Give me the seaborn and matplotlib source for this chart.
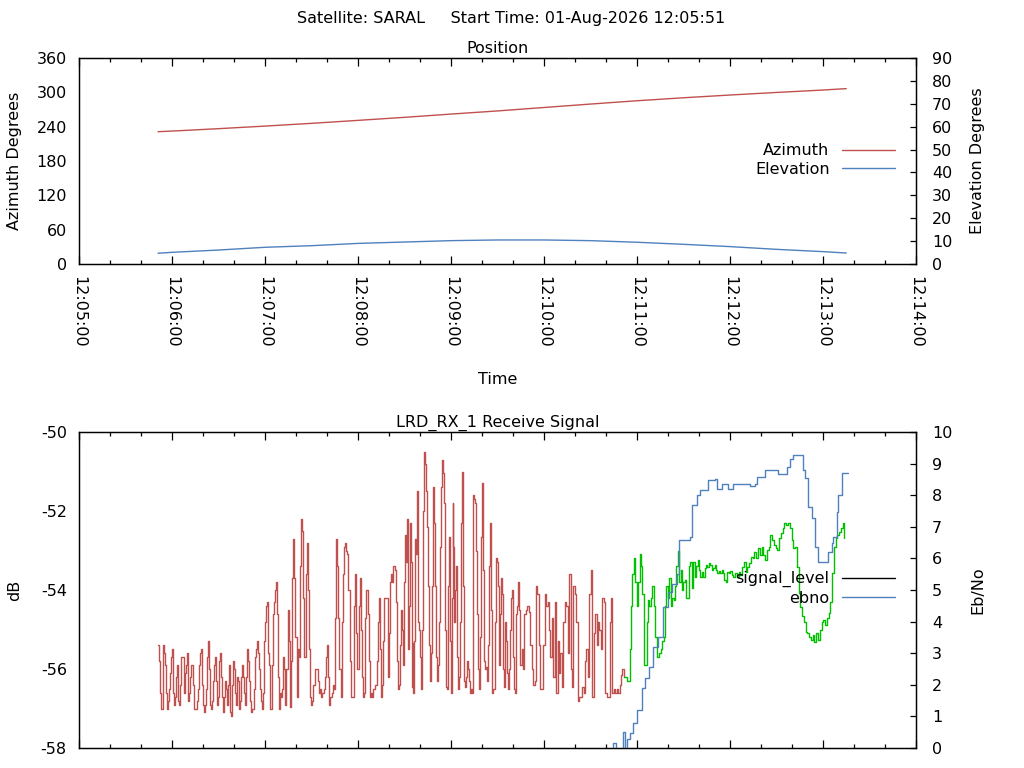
import numpy as np
import pandas as pd
import seaborn as sns
import matplotlib.pyplot as plt
import matplotlib.dates as mdates
from matplotlib.lines import Line2D

# Pass start, all times below are seconds after 12:05:00
start_time = pd.Timestamp('2026-08-01 12:05:00')

# Position samples
pos_sec = [51, 60, 90, 120, 150, 180, 210, 240, 270, 300, 330, 360, 390, 420, 450, 480, 495]
azimuth = [231.2, 232.3, 236.5, 241.0, 245.8, 251.0, 256.3, 262.0, 267.5, 273.5, 279.5,
           285.3, 290.5, 295.3, 299.8, 304.0, 306.5]
elevation = [4.7, 5.1, 6.1, 7.3, 8.0, 9.0, 9.6, 10.2, 10.5, 10.5, 10.2, 9.5, 8.6, 7.6, 6.4, 5.4, 4.8]

# Signal level (dB), read in pieces; each piece spans the matching pair of seg_bounds
seg_bounds = [51, 129.5, 207.2, 284.6, 352.5, 421, 495]
signal_a = [-55.4, -55.8, -56.6, -57.0, -57.0, -55.4, -55.6, -55.9, -56.6, -57.0, -56.8, -56.5, -56.1,
            -55.7, -55.5, -56.6, -56.9, -56.7, -56.2, -55.9, -56.8, -56.9, -56.4, -55.7, -55.7, -55.7,
            -56.6, -56.1, -55.9, -55.6, -56.8, -56.6, -56.2, -55.9, -55.9, -56.4, -57.0, -57.0, -57.0,
            -56.8, -56.5, -55.9, -55.6, -55.5, -56.4, -56.9, -57.1, -56.9, -56.5, -55.7, -55.3, -56.0,
            -56.9, -57.0, -56.8, -56.3, -55.9, -55.7, -56.3, -56.9, -56.7, -55.8, -55.6, -56.2, -56.7,
            -57.1, -56.7, -56.3, -56.5, -56.9, -56.4, -55.9, -57.1, -57.2, -56.4, -55.8, -56.0, -56.6,
            -56.9, -56.2, -56.3, -57.0, -56.8, -56.2, -55.9, -56.2, -56.6, -56.9, -56.2, -55.5, -55.8,
            -56.3, -56.8, -57.1, -57.0, -57.0, -56.5, -55.7, -55.5, -55.3, -55.6, -56.0, -56.5, -56.8,
            -57.0, -56.6, -55.3, -54.8, -54.4, -54.3, -55.6, -55.9, -57.0, -57.0, -55.9, -54.6, -54.3,
            -54.0, -53.8, -54.6, -56.2, -57.0]
signal_b = [-56.6, -56.7, -56.5, -55.7, -56.0, -56.9, -56.0, -54.5, -55.3, -56.95, -55.8, -53.7, -52.7,
            -53.7, -55.2, -56.7, -55.5, -55.7, -53.4, -52.2, -52.5, -54.2, -55.7, -53.6, -52.8, -54.0,
            -55.5, -56.7, -56.9, -56.8, -56.4, -56.0, -56.0, -56.0, -56.3, -56.6, -56.5, -56.7, -56.6,
            -56.5, -56.2, -55.7, -55.4, -56.2, -56.9, -56.7, -56.6, -56.4, -56.5, -54.7, -52.7, -53.4,
            -54.7, -56.0, -56.7, -54.8, -53.6, -52.9, -52.8, -53.0, -53.1, -54.0, -55.8, -56.7, -56.7,
            -56.7, -54.4, -53.6, -55.1, -56.0, -54.4, -53.7, -55.0, -56.2, -56.7, -56.6, -54.7, -54.0,
            -54.6, -55.8, -56.7, -56.6, -56.7, -56.5, -56.5, -56.4, -55.8, -54.8, -54.2, -55.5, -56.7,
            -56.4, -55.3, -54.2, -54.2, -54.2, -56.2, -55.1, -53.8, -53.6, -53.8, -53.4, -53.5, -54.3,
            -55.8, -56.5, -56.4]
signal_c = [-55.4, -54.5, -55.0, -55.9, -53.8, -52.6, -53.3, -52.2, -55.5, -54.4, -52.3, -53.3, -56.45,
            -55.35, -56.6, -55.3, -52.7, -53.1, -51.5, -54.8, -55.0, -55.7, -56.5, -55.0, -52.0, -50.5,
            -50.8, -51.5, -52.4, -53.9, -55.4, -56.3, -55.6, -53.9, -52.2, -51.4, -52.3, -53.9, -55.7,
            -56.3, -55.9, -54.8, -52.9, -51.4, -50.7, -51.05, -51.8, -55.0, -56.45, -56.5, -53.9, -52.65,
            -55.3, -56.6, -54.2, -51.8, -52.9, -54.8, -54.0, -53.4, -55.7, -56.5, -56.2, -54.8, -52.3,
            -51.0, -53.9, -56.3, -56.45, -56.2, -55.8, -56.0, -56.3, -56.6, -56.5, -56.6, -54.1, -51.6,
            -51.7, -51.8, -53.0, -54.6, -56.0, -56.5, -55.2, -52.65, -51.3, -53.5, -55.8, -56.0, -55.95,
            -56.3, -55.4, -53.4, -52.3, -54.5, -56.6, -56.5, -56.5, -56.5, -54.8, -53.2, -53.3, -53.9,
            -55.9, -54.6, -53.7, -54.1, -56.0, -56.45, -54.8, -55.3, -56.1, -56.5, -56.0, -55.0, -54.2,
            -54.0, -54.6, -55.7, -56.5, -56.6, -54.6, -54.4, -53.8, -54.5]
signal_d = [-55.9, -55.5, -56.0, -54.6, -54.5, -54.4, -54.55, -55.4, -56.0, -56.4, -56.3, -53.9, -54.1,
            -55.4, -56.5, -56.5, -55.4, -54.1, -54.4, -54.3, -55.0, -55.7, -54.7, -56.2, -54.3, -56.6,
            -55.3, -56.1, -55.6, -56.45, -54.8, -54.3, -54.4, -55.6, -53.6, -56.0, -56.45, -53.9, -54.1,
            -54.8, -56.8, -56.7, -56.7, -56.45, -56.6, -55.8, -55.5, -56.2, -54.1, -53.5, -56.7, -55.1,
            -54.6, -55.4, -54.8, -55.0, -55.5, -54.2, -54.3, -56.6, -56.7, -56.7, -54.8, -54.2, -56.6,
            -56.5, -56.6, -56.5, -56.6, -56.4, -56.15, -56.0, -56.2]
signal_e = [-56.2, -56.3, -56.3, -55.5, -54.4, -53.6, -53.2, -53.8, -54.4, -53.8, -53.1, -53.4, -54.1,
            -55.9, -55.9, -54.8, -54.25, -54.4, -54.2, -53.9, -54.4, -55.2, -55.7, -55.7, -55.6, -55.5,
            -55.3, -55.2, -54.4, -53.9, -54.2, -53.7, -54.4, -54.2, -54.25, -53.9, -53.4, -53.0, -53.8,
            -53.5, -54.0, -53.8, -53.75, -54.2, -54.2, -53.4, -53.3, -53.96, -53.3, -53.66, -53.4,
            -53.24, -53.5, -53.66, -53.54, -53.66, -53.45, -53.37, -53.41, -53.32, -53.37, -53.49,
            -53.45, -53.37, -53.49, -53.58, -53.51, -53.58, -53.49, -53.58, -53.75, -53.79, -53.54,
            -53.58, -53.51]
signal_f = [-53.62, -53.66, -53.58, -53.66, -53.54, -53.62, -53.41, -53.28, -53.54, -53.41, -53.32,
            -53.16, -53.2, -53.03, -53.2, -52.94, -53.11, -52.9, -53.11, -53.24, -52.99, -52.9, -52.61,
            -52.73, -52.86, -52.94, -52.99, -52.69, -52.56, -52.44, -52.31, -52.35, -52.31, -52.44,
            -52.73, -52.94, -52.9, -53.41, -54.08, -54.42, -54.67, -54.8, -55.06, -55.1, -55.18, -55.27,
            -55.14, -55.31, -55.1, -55.27, -55.01, -54.8, -54.76, -54.89, -54.72, -54.59, -54.3, -53.58,
            -52.9, -52.69, -52.61, -52.52, -52.44, -52.31, -52.69]

# Eb/No samples
ebno_sec = [330, 340, 344.5, 346.5, 349.7, 351.0, 352.3, 353.5, 355.5, 357.4, 360.0, 363.0, 365.2,
            367.9, 370.5, 373.7, 377.0, 380.2, 382.6, 385.6, 387.3, 394.2, 395.3, 398.5, 400.6, 406.0,
            410.3, 411.4, 414.6, 418.9, 422.1, 432.9, 436.1, 437.2, 442.6, 451.2, 456.6, 458.7, 460.9,
            467.3, 468.4, 470.5, 472.7, 474.8, 477.0, 483.4, 485.6, 486.6, 488.8, 489.9, 492.1, 496.3]
ebno = [-1.0, -0.6, 0.15, -0.5, -0.3, 0.5, -0.2, 0.3, 0.46, 0.78, 1.2, 1.9, 2.2, 2.57, 3.2, 3.5,
        4.47, 4.95, 5.2, 5.5, 6.58, 6.69, 7.69, 8.0, 8.16, 8.48, 8.5, 8.19, 8.37, 8.19, 8.37, 8.3,
        8.37, 8.58, 8.8, 8.67, 8.9, 9.16, 9.27, 8.8, 8.53, 7.63, 7.27, 6.37, 5.9, 6.2, 6.48, 6.69,
        7.48, 8.0, 8.69, 8.69]

RED = '#c0504d'
BLUE = '#4f81bd'
GREEN = '#00c000'


def to_time(sec):
    return start_time + pd.to_timedelta(np.asarray(sec, dtype=float), unit='s')


# spread each signal piece over its time span
pieces = [signal_a, signal_b, signal_c, signal_d, signal_e, signal_f]
sig_sec = []
for i, piece in enumerate(pieces):
    sig_sec.append(np.linspace(seg_bounds[i], seg_bounds[i + 1], len(piece), endpoint=False))
n_red = len(signal_a) + len(signal_b) + len(signal_c) + len(signal_d)
sig_sec = np.concatenate(sig_sec)
sig_val = np.concatenate(pieces)
sig_time = to_time(sig_sec)

sns.set_theme(style='white', rc={'axes.edgecolor': 'black', 'text.color': 'black',
                                 'xtick.color': 'black', 'ytick.color': 'black',
                                 'axes.labelcolor': 'black', 'axes.linewidth': 0.9})
plt.rcParams['font.family'] = ['DejaVu Sans']
plt.rcParams['axes.unicode_minus'] = False
FS = 11.5

fig = plt.figure(figsize=(10.24, 7.68), dpi=100)
fig.text(0.4995, 1 - 23 / 768, 'Satellite: SARAL     Start Time: 01-Aug-2026 12:05:51',
         ha='center', va='baseline', fontsize=FS)

ax_top = fig.add_axes([79 / 1024, 1 - 264 / 768, 837 / 1024, 206 / 768])
ax_top_r = ax_top.twinx()
ax_bot = fig.add_axes([79 / 1024, 1 - 748 / 768, 837 / 1024, 316 / 768])
ax_bot_r = ax_bot.twinx()

# Position plot
pos_time = to_time(pos_sec)
sns.lineplot(x=pos_time, y=azimuth, ax=ax_top, color=RED, lw=1.0, estimator=None, sort=False)
sns.lineplot(x=pos_time, y=elevation, ax=ax_top_r, color=BLUE, lw=1.0, estimator=None, sort=False)

# Receive signal plot (stepped like the logger output)
sns.lineplot(x=sig_time[:n_red], y=sig_val[:n_red], ax=ax_bot, color=RED, lw=1.0,
             estimator=None, sort=False, drawstyle='steps-post')
sns.lineplot(x=sig_time[n_red - 1:], y=sig_val[n_red - 1:], ax=ax_bot, color=GREEN, lw=1.0,
             estimator=None, sort=False, drawstyle='steps-post')
sns.lineplot(x=to_time(ebno_sec), y=ebno, ax=ax_bot_r, color=BLUE, lw=1.0,
             estimator=None, sort=False, drawstyle='steps-post')

x_lo = start_time
x_hi = start_time + pd.Timedelta(minutes=9)
for ax in (ax_top, ax_bot):
    ax.set_xlim(x_lo, x_hi)
    ax.xaxis.set_major_locator(mdates.MinuteLocator())
    ax.xaxis.set_minor_locator(mdates.SecondLocator(bysecond=[20, 40]))
    ax.xaxis.set_major_formatter(mdates.DateFormatter('%H:%M:%S'))
    ax.tick_params(axis='x', which='major', direction='in', length=5.5, width=0.9,
                   top=True, bottom=True, labelsize=FS, pad=9)
    ax.tick_params(axis='x', which='minor', direction='in', length=3, width=0.9,
                   top=True, bottom=True)
    ax.tick_params(axis='y', length=0, labelsize=FS, pad=8.8)
    ax.set_xlabel('')

for ax in (ax_top_r, ax_bot_r):
    ax.tick_params(axis='y', direction='in', length=4.5, width=0.9, labelsize=FS, pad=11.5)

plt.setp(ax_top.get_xticklabels(), rotation=-90, ha='center', va='top')
ax_bot.tick_params(axis='x', labelbottom=False)

ax_top.set_ylim(0, 360)
ax_top.set_yticks(range(0, 361, 60))
ax_top_r.set_ylim(0, 90)
ax_top_r.set_yticks(range(0, 91, 10))
ax_bot.set_ylim(-58, -50)
ax_bot.set_yticks(range(-58, -49, 2))
ax_bot_r.set_ylim(0, 10)
ax_bot_r.set_yticks(range(0, 11, 1))

# Titles and labels
ax_top.set_title('Position', fontsize=FS, pad=3.6)
ax_bot.set_title('LRD_RX_1 Receive Signal', fontsize=FS, pad=3.6)
ax_top.set_xlabel('Time', fontsize=FS)
ax_top.xaxis.set_label_coords(0.5, -0.524)
ax_top.set_ylabel('Azimuth Degrees', fontsize=FS)
ax_top.yaxis.set_label_coords(-0.0685, 0.5)
ax_top_r.set_ylabel('Elevation Degrees', fontsize=FS)
ax_top_r.yaxis.set_label_coords(1.064, 0.5)
ax_bot.set_ylabel('dB', fontsize=FS)
ax_bot.yaxis.set_label_coords(-0.0685, 0.5)
ax_bot_r.set_ylabel('Eb/No', fontsize=FS)
ax_bot_r.yaxis.set_label_coords(1.065, 0.5)

# Legends: text on the left, line sample on the right
leg_kw = dict(loc='center right', frameon=False, markerfirst=False, handlelength=3.3,
              handletextpad=0.8, labelspacing=0.2, fontsize=FS, borderpad=0, borderaxespad=0)
ax_top_r.legend([Line2D([], [], color=RED, lw=1.0), Line2D([], [], color=BLUE, lw=1.0)],
                ['Azimuth', 'Elevation'], bbox_to_anchor=(0.975, 0.505), **leg_kw)
ax_bot_r.legend([Line2D([], [], color='black', lw=1.0), Line2D([], [], color=BLUE, lw=1.0)],
                ['signal_level', 'ebno'], bbox_to_anchor=(0.975, 0.505), **leg_kw)

plt.savefig('out.png', dpi=100)
